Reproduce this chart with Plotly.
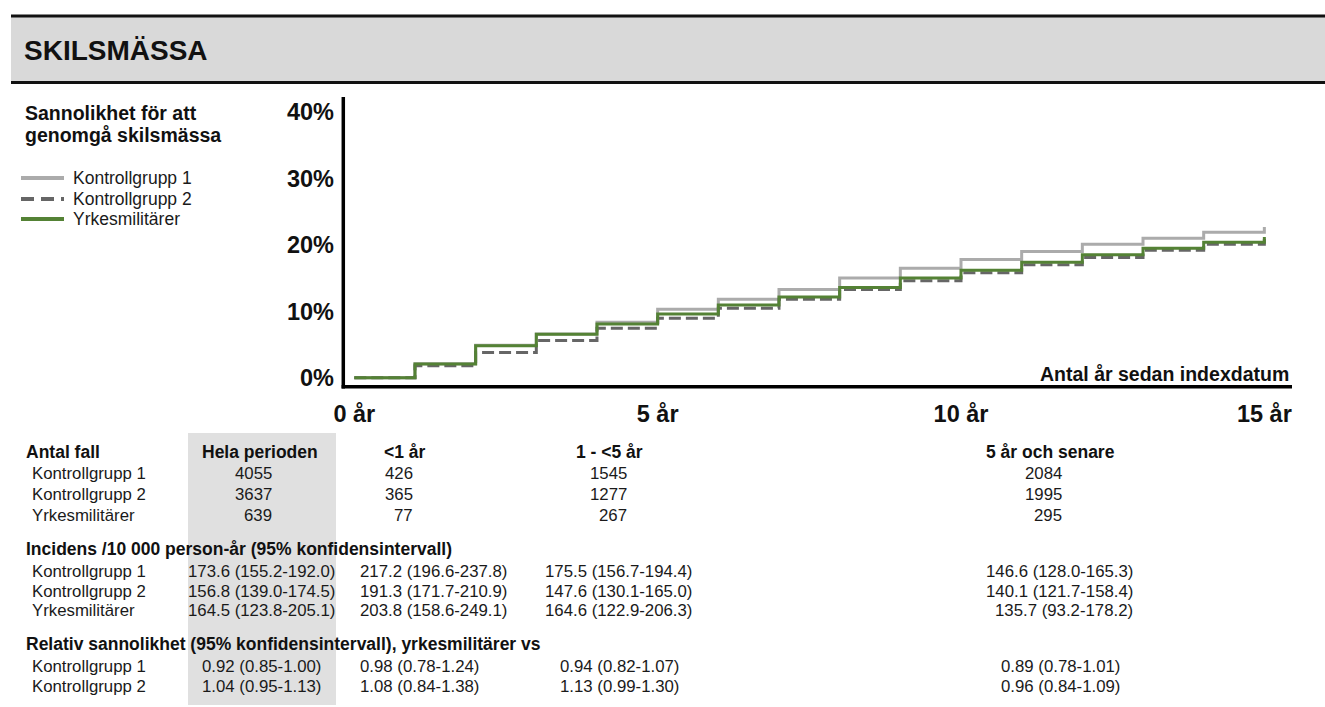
import plotly.graph_objects as go

# ---------------- data ----------------
years = list(range(16))
kontroll1 = [0, 2.1, 4.9, 6.6, 8.35, 10.3, 11.8, 13.3, 15.0, 16.5, 17.8, 19.0, 20.1, 21.0, 21.9, 22.7]
kontroll2 = [0, 1.8, 3.8, 5.6, 7.45, 8.95, 10.45, 11.8, 13.3, 14.6, 15.8, 17.0, 18.1, 19.2, 20.1, 20.9]
yrkesmil = [0, 2.05, 4.8, 6.55, 8.1, 9.6, 10.95, 12.15, 13.6, 15.0, 16.2, 17.4, 18.5, 19.5, 20.4, 21.2]

series_names = ["Kontrollgrupp 1", "Kontrollgrupp 2", "Yrkesmilitärer"]
x_tick_vals = [0, 5, 10, 15]
x_tick_text = ["0 år", "5 år", "10 år", "15 år"]
y_tick_vals = [0, 10, 20, 30, 40]
y_tick_text = ["0%", "10%", "20%", "30%", "40%"]

title_text = "SKILSMÄSSA"
subtitle_lines = ["Sannolikhet för att", "genomgå skilsmässa"]
x_axis_title = "Antal år sedan indexdatum"

periods = ["Hela perioden", "<1 år", "1 - <5 år", "5 år och senare"]
section_titles = ["Antal fall",
                  "Incidens /10 000 person-år (95% konfidensintervall)",
                  "Relativ sannolikhet (95% konfidensintervall), yrkesmilitärer vs"]
antal_kontroll1 = [4055, 426, 1545, 2084]
antal_kontroll2 = [3637, 365, 1277, 1995]
antal_yrkesmil = [639, 77, 267, 295]
incidens_kontroll1 = ["173.6 (155.2-192.0)", "217.2 (196.6-237.8)", "175.5 (156.7-194.4)", "146.6 (128.0-165.3)"]
incidens_kontroll2 = ["156.8 (139.0-174.5)", "191.3 (171.7-210.9)", "147.6 (130.1-165.0)", "140.1 (121.7-158.4)"]
incidens_yrkesmil = ["164.5 (123.8-205.1)", "203.8 (158.6-249.1)", "164.6 (122.9-206.3)", "135.7 (93.2-178.2)"]
relativ_kontroll1 = ["0.92 (0.85-1.00)", "0.98 (0.78-1.24)", "0.94 (0.82-1.07)", "0.89 (0.78-1.01)"]
relativ_kontroll2 = ["1.04 (0.95-1.13)", "1.08 (0.84-1.38)", "1.13 (0.99-1.30)", "0.96 (0.84-1.09)"]

# ---------------- styling / layout ----------------
W, H = 1325, 707
FONT = "Liberation Sans, Arial, sans-serif"
C_K1 = "#ababab"
C_K2 = "#666666"
C_Y = "#548235"
styles = [dict(color=C_K1, width=3, dash="solid"),
          dict(color=C_K2, width=3, dash="12px,5px"),
          dict(color=C_Y, width=3, dash="solid")]


def px(x):
    return x / W


def py(y):
    return 1 - y / H


# chart pixel geometry
X_ORIGIN_PX = 354.3
PX_PER_YEAR = 60.67
Y_ZERO_PX = 377.7
PX_PER_PCT = 6.64
PLOT_L, PLOT_R, PLOT_T, PLOT_B = 345, 1292, 97, 385

fig = go.Figure()
for name, vals, st in zip(series_names, [kontroll1, kontroll2, yrkesmil], styles):
    fig.add_trace(go.Scatter(x=years, y=vals, mode="lines", name=name,
                             line=dict(shape="hv", **st), showlegend=False,
                             hoverinfo="skip"))

annotations = []
shapes = []


def text(x, y, s, size, bold=False, anchor="left", color="#1a1a1a"):
    annotations.append(dict(x=px(x), y=py(y), xref="paper", yref="paper", text=s,
                            showarrow=False, xanchor=anchor, yanchor="middle",
                            font=dict(family=FONT, size=size, color=color,
                                      weight="bold" if bold else "normal")))


# header band
shapes.append(dict(type="rect", xref="paper", yref="paper", x0=px(11), x1=px(1325),
                   y0=py(83), y1=py(16), fillcolor="#d9d9d9", line=dict(width=0), layer="below"))
for yy in (16, 82.5):
    shapes.append(dict(type="line", xref="paper", yref="paper", x0=px(11), x1=px(1325),
                       y0=py(yy), y1=py(yy), line=dict(color="#111111", width=3)))
text(22, 50, title_text, 28, bold=True, color="#111111")

# subtitle + legend
text(23, 113, subtitle_lines[0], 19.5, bold=True, color="#111111")
text(23, 135, subtitle_lines[1], 19.5, bold=True, color="#111111")
legend_y = [178, 199, 219]
legend_dash = ["solid", "13px,7px", "solid"]
for name, st, ly, dsh in zip(series_names, styles, legend_y, legend_dash):
    shapes.append(dict(type="line", xref="paper", yref="paper", x0=px(21), x1=px(64),
                       y0=py(ly), y1=py(ly), line=dict(color=st["color"], width=4, dash=dsh)))
    text(71, ly, name, 17.5)

# axis lines
shapes.append(dict(type="line", xref="paper", yref="paper", x0=px(343.3), x1=px(343.3),
                   y0=py(97), y1=py(388.5), line=dict(color="#000000", width=3.5)))
shapes.append(dict(type="line", xref="paper", yref="paper", x0=px(341.6), x1=px(1292),
                   y0=py(386.8), y1=py(386.8), line=dict(color="#000000", width=3.5)))
text(1291, 374, x_axis_title, 19.5, bold=True, anchor="right", color="#111111")

# ---------------- table ----------------
shapes.append(dict(type="rect", xref="paper", yref="paper", x0=px(188), x1=px(336),
                   y0=py(705), y1=py(433), fillcolor="#e0e0e0", line=dict(width=0), layer="below"))

LABEL_X = 30
SEC_X = 24
sec_y = [452, 549, 644]
count_rows_y = [473, 494, 515]
inc_rows_y = [571, 591, 610]
rel_rows_y = [666, 686]
header_pos = [(260, "center"), (405, "center"), (609, "center"), (1050, "center")]
count_pos = [(274, "right"), (415, "right"), (629, "right"), (1064, "right")]
inc_pos = [(261, "center"), (358, "left"), (618, "center"), (1135, "right")]
rel_pos = [(261, "center"), (358, "left"), (619, "center"), (1122, "right")]
BODY = 16.8
HEAD = 17.5

text(SEC_X, sec_y[0], section_titles[0], HEAD, bold=True, color="#111111")
for p, (hx, ha) in zip(periods, header_pos):
    text(hx, sec_y[0], p, HEAD, bold=True, anchor=ha, color="#111111")
for name, vals, ry in zip(series_names, [antal_kontroll1, antal_kontroll2, antal_yrkesmil], count_rows_y):
    text(LABEL_X, ry, name, BODY)
    for v, (cx, ca) in zip(vals, count_pos):
        text(cx, ry, str(v), BODY, anchor=ca)

text(SEC_X, sec_y[1], section_titles[1], HEAD, bold=True, color="#111111")
for name, vals, ry in zip(series_names, [incidens_kontroll1, incidens_kontroll2, incidens_yrkesmil], inc_rows_y):
    text(LABEL_X, ry, name, BODY)
    for v, (cx, ca) in zip(vals, inc_pos):
        text(cx, ry, v, BODY, anchor=ca)

text(SEC_X, sec_y[2], section_titles[2], HEAD, bold=True, color="#111111")
for name, vals, ry in zip(series_names[:2], [relativ_kontroll1, relativ_kontroll2], rel_rows_y):
    text(LABEL_X, ry, name, BODY)
    for v, (cx, ca) in zip(vals, rel_pos):
        text(cx, ry, v, BODY, anchor=ca)

fig.update_layout(
    width=W, height=H, autosize=False, margin=dict(l=0, r=0, t=0, b=0, pad=0, autoexpand=False),
    paper_bgcolor="white", plot_bgcolor="rgba(0,0,0,0)",
    showlegend=False,
    annotations=annotations, shapes=shapes,
    xaxis=dict(domain=[px(PLOT_L), px(PLOT_R)],
               range=[(PLOT_L - X_ORIGIN_PX) / PX_PER_YEAR, (PLOT_R - X_ORIGIN_PX) / PX_PER_YEAR],
               tickvals=x_tick_vals, ticktext=x_tick_text, showgrid=False, zeroline=False,
               showline=False, ticks="", ticklabelstandoff=12, automargin=False,
               tickfont=dict(family=FONT, size=23.5, color="#111111", weight="bold"),
               fixedrange=True),
    yaxis=dict(domain=[py(PLOT_B), py(PLOT_T)],
               range=[(Y_ZERO_PX - PLOT_B) / PX_PER_PCT, (Y_ZERO_PX - PLOT_T) / PX_PER_PCT],
               tickvals=y_tick_vals, ticktext=y_tick_text, showgrid=False, zeroline=False,
               showline=False, ticks="", ticklabelstandoff=10, automargin=False,
               tickfont=dict(family=FONT, size=23.5, color="#111111", weight="bold"),
               fixedrange=True),
)

fig.write_html("out.html", config={"responsive": False, "displayModeBar": False},
               post_script="document.body.style.margin='0';document.body.style.padding='0';"
                           "document.documentElement.style.overflow='hidden';")
